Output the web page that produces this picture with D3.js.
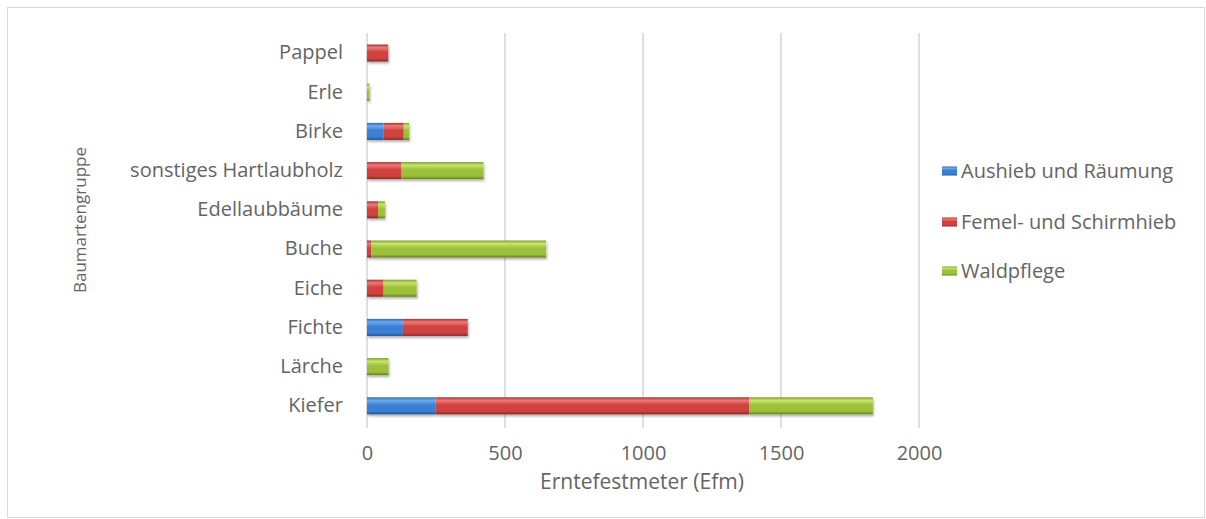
<!DOCTYPE html>
<html>
<head>
<meta charset="utf-8">
<script src="https://cdn.jsdelivr.net/npm/d3@7"></script>
<style>
  html, body { margin: 0; padding: 0; background: #fff; }
  svg { display: block; }
  text { font-family: "Open Sans", sans-serif; fill: #646464; }
</style>
</head>
<body>
<svg id="chart" width="1206" height="519"></svg>
<script>
// ---- data (bottom to top, as in the original) ----
const categories = ["Kiefer", "Lärche", "Fichte", "Eiche", "Buche", "Edellaubbäume",
                    "sonstiges Hartlaubholz", "Birke", "Erle", "Pappel"];
const seriesNames = ["Aushieb und Räumung", "Femel- und Schirmhieb", "Waldpflege"];
const aushieb    = [248, 0, 130, 0,   0,  0,   0,  60, 0,  0];
const femel      = [1137, 0, 235, 60, 15, 40, 125, 73, 0, 77];
const waldpflege = [448, 78, 0, 120, 634, 25, 297, 20, 9, 0];
const xTicks = [0, 500, 1000, 1500, 2000];
const xTitle = "Erntefestmeter (Efm)";
const yTitle = "Baumartengruppe";

const seriesValues = [aushieb, femel, waldpflege];
const palette = [
  { id: "gBlue",  top: "#2f66b0", hi: "#6eaaec", base: "#3a80d4", bot: "#23508f" },
  { id: "gRed",   top: "#a8302e", hi: "#ec7a77", base: "#d0423f", bot: "#8a2523" },
  { id: "gGreen", top: "#7e9e27", hi: "#c8e46f", base: "#9dc03a", bot: "#62801b" }
];

const svg = d3.select("#chart");
const defs = svg.append("defs");
palette.forEach(p => {
  const g = defs.append("linearGradient").attr("id", p.id)
    .attr("x1", 0).attr("y1", 0).attr("x2", 0).attr("y2", 1);
  g.append("stop").attr("offset", "0%").attr("stop-color", p.top);
  g.append("stop").attr("offset", "18%").attr("stop-color", p.hi);
  g.append("stop").attr("offset", "45%").attr("stop-color", p.base);
  g.append("stop").attr("offset", "82%").attr("stop-color", p.base);
  g.append("stop").attr("offset", "100%").attr("stop-color", p.bot);
});
const sh = defs.append("filter").attr("id", "shadow")
  .attr("x", "-5%").attr("y", "-20%").attr("width", "110%").attr("height", "160%");
sh.append("feDropShadow").attr("dx", 1).attr("dy", 2).attr("stdDeviation", 1.2)
  .attr("flood-color", "#000").attr("flood-opacity", 0.3);

// outer frame
svg.append("rect").attr("x", 7.5).attr("y", 7.5).attr("width", 1197).attr("height", 510)
  .attr("fill", "#fff").attr("stroke", "#d9d9d9").attr("stroke-width", 1);

const x = d3.scaleLinear().domain([0, 2000]).range([367, 919]);
const y = d3.scaleBand().domain(categories.slice().reverse())
  .range([33.4, 425.4]).paddingInner(0.566).paddingOuter(0.283);

const plotTop = 33, plotBottom = 428;

// gridlines
svg.append("g").selectAll("line").data(xTicks.slice(1)).join("line")
  .attr("x1", d => x(d)).attr("x2", d => x(d))
  .attr("y1", plotTop).attr("y2", plotBottom)
  .attr("stroke", "#d4d4d4").attr("stroke-width", 1.5);

// vertical axis line
svg.append("line").attr("x1", x(0)).attr("x2", x(0))
  .attr("y1", plotTop).attr("y2", plotBottom)
  .attr("stroke", "#d4d4d4").attr("stroke-width", 1.5);

// x axis (tick labels)
const xAxis = d3.axisBottom(x).tickValues(xTicks).tickFormat(d3.format("d"))
  .tickSize(0).tickPadding(0);
const xg = svg.append("g").attr("transform", `translate(0, ${446})`).call(xAxis);
xg.select(".domain").remove();
xg.selectAll("text").attr("font-size", 20).attr("fill", "#646464")
  .attr("font-family", "Open Sans, sans-serif");

// y axis (category labels)
const yAxis = d3.axisLeft(y).tickSize(0).tickPadding(0);
const yg = svg.append("g").attr("transform", `translate(${343}, 0)`).call(yAxis);
yg.select(".domain").remove();
yg.selectAll("text").attr("font-size", 20).attr("fill", "#646464")
  .attr("font-family", "Open Sans, sans-serif");

// stacked bars
const rows = categories.map((c, i) => {
  const r = { cat: c };
  seriesNames.forEach((s, k) => r[s] = seriesValues[k][i]);
  return r;
});
const stack = d3.stack().keys(seriesNames)(rows);
const barsG = svg.append("g").attr("filter", "url(#shadow)");
stack.forEach((layer, k) => {
  barsG.append("g").selectAll("rect").data(layer.filter(d => d[1] - d[0] > 0)).join("rect")
    .attr("x", d => x(d[0]))
    .attr("y", d => y(d.data.cat))
    .attr("width", d => x(d[1]) - x(d[0]))
    .attr("height", y.bandwidth())
    .attr("fill", `url(#${palette[k].id})`);
});

// axis titles
svg.append("text").attr("x", 642).attr("y", 489).attr("text-anchor", "middle")
  .attr("font-size", 21).text(xTitle);
svg.append("text").attr("transform", "translate(86, 220) rotate(-90)")
  .attr("text-anchor", "middle").attr("font-size", 17).text(yTitle);

// legend
const legendY = [171, 222, 271];
const lg = svg.append("g");
seriesNames.forEach((s, k) => {
  lg.append("rect").attr("x", 942).attr("y", legendY[k] - 4.5).attr("width", 15).attr("height", 9)
    .attr("fill", `url(#${palette[k].id})`);
  lg.append("text").attr("x", 961).attr("y", legendY[k]).attr("dy", "0.35em")
    .attr("font-size", 20).text(s);
});
</script>
</body>
</html>
